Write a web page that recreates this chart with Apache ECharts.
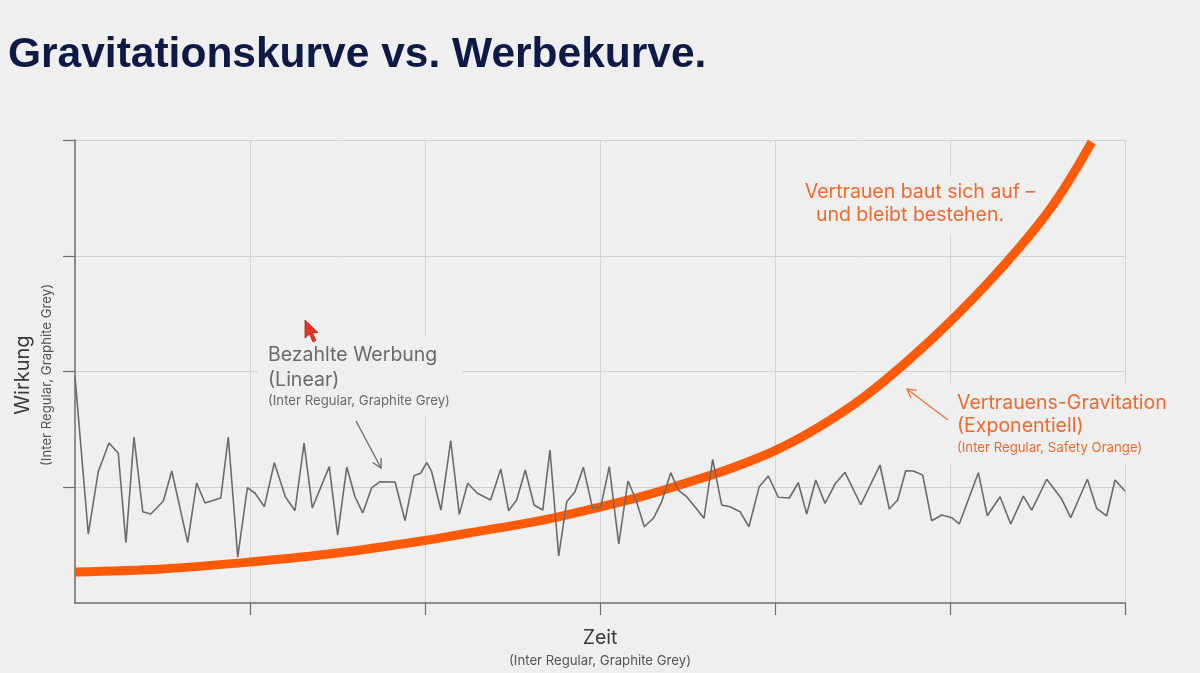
<!DOCTYPE html>
<html>
<head>
<meta charset="utf-8">
<script src="https://cdn.jsdelivr.net/npm/echarts@6/dist/echarts.min.js"></script>
<style>
html, body { margin: 0; padding: 0; background: #efefef; }
#chart { width: 1200px; height: 673px; }
</style>
</head>
<body>
<div id="chart"></div>
<script>
// Zeit-Achse 0..6, Wirkung 0..4
var xTicks = [1, 2, 3, 4, 5, 6];
var yTicks = [1, 2, 3, 4];

// Bezahlte Werbung (grau, zackig)
var adTime = [0, 0.076, 0.133, 0.194, 0.247, 0.291, 0.337, 0.387, 0.433, 0.505, 0.553, 0.644, 0.695, 0.743, 0.833, 0.876, 0.930, 0.985,
	1.029, 1.082, 1.139, 1.202, 1.257, 1.309, 1.356, 1.453, 1.501, 1.553, 1.600, 1.644, 1.695, 1.743, 1.829, 1.886, 1.937, 1.975,
	2.010, 2.038, 2.091, 2.147, 2.196, 2.244, 2.299, 2.375, 2.433, 2.478, 2.524, 2.573, 2.623, 2.673, 2.714, 2.764, 2.810, 2.857, 2.905, 2.958,
	3.004, 3.053, 3.107, 3.160, 3.206, 3.253, 3.305, 3.353, 3.404, 3.447, 3.495, 3.549, 3.594, 3.644, 3.695, 3.743, 3.800, 3.851, 3.910, 3.962,
	4.019, 4.082, 4.133, 4.181, 4.233, 4.286, 4.343, 4.400, 4.490, 4.600, 4.653, 4.701, 4.747, 4.790, 4.844, 4.895, 4.953,
	5.010, 5.053, 5.162, 5.213, 5.286, 5.347, 5.419, 5.467, 5.553, 5.638, 5.690, 5.785, 5.838, 5.895, 5.943, 6];
var adImpact = [1.955, 0.596, 1.134, 1.382, 1.296, 0.521, 1.434, 0.789, 0.769, 0.881, 1.140, 0.521, 1.037, 0.864, 0.907, 1.434, 0.397, 0.996,
	0.948, 0.832, 1.212, 0.918, 0.797, 1.382, 0.821, 1.178, 0.587, 1.175, 0.918, 0.778, 0.994, 1.048, 1.045, 0.711, 1.099, 1.121,
	1.212, 1.134, 0.803, 1.402, 0.766, 1.034, 0.948, 0.890, 1.158, 0.797, 0.890, 1.149, 0.847, 0.803, 1.322, 0.406, 0.875, 0.962, 1.172, 0.818,
	0.829, 1.178, 0.510, 1.054, 0.890, 0.659, 0.732, 0.875, 1.126, 0.976, 0.918, 0.818, 0.732, 1.241, 0.847, 0.832, 0.789, 0.659, 1.005, 1.097,
	0.913, 0.907, 1.039, 0.769, 1.063, 0.861, 1.028, 1.129, 0.849, 1.192, 0.812, 0.890, 1.143, 1.140, 1.106, 0.711, 0.760,
	0.737, 0.683, 1.126, 0.754, 0.918, 0.683, 0.924, 0.803, 1.069, 0.898, 0.737, 1.069, 0.818, 0.752, 1.063, 0.968];

// Vertrauens-Gravitation (orange, exponentiell)
var trustTime = [0, 0.5, 1, 1.5, 2, 2.25, 2.5, 2.75, 3, 3.25, 3.5, 3.75, 4, 4.25, 4.5, 4.75, 5, 5.25, 5.5, 5.65, 5.81];
var trustImpact = [0.268, 0.294, 0.354, 0.432, 0.540, 0.605, 0.668, 0.740, 0.829, 0.925, 1.041, 1.165, 1.317, 1.520, 1.770, 2.080, 2.430, 2.820, 3.260, 3.577, 3.983];

function pairs(xs, ys) {
	var out = [];
	for (var i = 0; i < xs.length; i++) {
		out.push([xs[i], ys[i]]);
	}
	return out;
}

// kleiner Pfeil mit offener Spitze
function arrow(x1, y1, x2, y2, color) {
	var a = Math.atan2(y2 - y1, x2 - x1);
	var len = 10, spread = 0.5;
	return [{
		type: 'line', z: 5, silent: true,
		shape: { x1: x1, y1: y1, x2: x2, y2: y2 },
		style: { stroke: color, lineWidth: 1.3 }
	}, {
		type: 'polyline', z: 5, silent: true,
		shape: { points: [
			[x2 - len * Math.cos(a - spread), y2 - len * Math.sin(a - spread)],
			[x2, y2],
			[x2 - len * Math.cos(a + spread), y2 - len * Math.sin(a + spread)]
		] },
		style: { stroke: color, lineWidth: 1.3, fill: null }
	}];
}

var bg = '#efefef';
var grey = '#6a6a6a';
var orangeText = '#ee6a2e';

var graphics = [
	// Hintergrund hinter den Beschriftungen (verdeckt Gitterlinien)
	{ type: 'rect', z: 1, silent: true, shape: { x: 258, y: 337, width: 204, height: 80 }, style: { fill: bg } },
	{ type: 'rect', z: 1, silent: true, shape: { x: 796, y: 175, width: 244, height: 60 }, style: { fill: bg } },
	{ type: 'rect', z: 1, silent: true, shape: { x: 948, y: 383, width: 212, height: 80 }, style: { fill: bg } },

	{ type: 'text', z: 5, x: 268, y: 355, style: { text: 'Bezahlte Werbung', font: '19.5px Inter', fill: grey, textVerticalAlign: 'middle' } },
	{ type: 'text', z: 5, x: 268, y: 380, style: { text: '(Linear)', font: '19.5px Inter', fill: grey, textVerticalAlign: 'middle' } },
	{ type: 'text', z: 5, x: 268, y: 401, style: { text: '(Inter Regular, Graphite Grey)', font: '13.2px Inter', fill: grey, textVerticalAlign: 'middle' } },

	{ type: 'text', z: 5, x: 920, y: 192, style: { text: 'Vertrauen baut sich auf –', font: '19.5px Inter', fill: orangeText, textAlign: 'center', textVerticalAlign: 'middle' } },
	{ type: 'text', z: 5, x: 910, y: 215, style: { text: 'und bleibt bestehen.', font: '19.5px Inter', fill: orangeText, textAlign: 'center', textVerticalAlign: 'middle' } },

	{ type: 'text', z: 5, x: 957, y: 403, style: { text: 'Vertrauens-Gravitation', font: '19.5px Inter', fill: orangeText, textVerticalAlign: 'middle' } },
	{ type: 'text', z: 5, x: 957, y: 426, style: { text: '(Exponentiell)', font: '19.5px Inter', fill: orangeText, textVerticalAlign: 'middle' } },
	{ type: 'text', z: 5, x: 957, y: 448, style: { text: '(Inter Regular, Safety Orange)', font: '13.2px Inter', fill: orangeText, textVerticalAlign: 'middle' } },

	// Achsentitel
	{ type: 'text', z: 5, x: 23, y: 375, rotation: Math.PI / 2, style: { text: 'Wirkung', font: '20px Inter', fill: '#3a3a3a', textAlign: 'center', textVerticalAlign: 'middle' } },
	{ type: 'text', z: 5, x: 47, y: 375, rotation: Math.PI / 2, style: { text: '(Inter Regular, Graphite Grey)', font: '13.2px Inter', fill: '#555', textAlign: 'center', textVerticalAlign: 'middle' } },
	{ type: 'text', z: 5, x: 600, y: 638, style: { text: 'Zeit', font: '19.5px Inter', fill: '#3a3a3a', textAlign: 'center', textVerticalAlign: 'middle' } },
	{ type: 'text', z: 5, x: 600, y: 661, style: { text: '(Inter Regular, Graphite Grey)', font: '13.2px Inter', fill: '#555', textAlign: 'center', textVerticalAlign: 'middle' } },

	// Mauszeiger aus der Aufnahme
	{ type: 'polygon', z: 6, silent: true, shape: { points: [[305, 320], [305, 338], [309.5, 334], [313, 342], [316, 340.5], [312.5, 333], [318, 332.5]] },
		style: { fill: '#e5332a', stroke: '#b3201a', lineWidth: 0.8 } }
];
graphics = graphics.concat(arrow(356, 421, 381, 468, grey));
graphics = graphics.concat(arrow(948, 420, 907, 389, '#f07030'));

var myChart = echarts.init(document.getElementById('chart'));
var option = {
	backgroundColor: bg,
	animation: false,
	title: {
		text: 'Gravitationskurve vs. Werbekurve.',
		left: 3,
		top: 29,
		textStyle: {
			fontFamily: 'Liberation Sans',
			fontWeight: 'bold',
			fontSize: 42.5,
			color: '#0c1a45'
		}
	},
	grid: { left: 75, right: 75, top: 140, bottom: 70 },
	xAxis: {
		type: 'value',
		min: 0,
		max: 6,
		interval: 1,
		axisLine: { show: true, lineStyle: { color: '#6e6e6e', width: 1.5 } },
		axisTick: { show: true, length: 12, customValues: xTicks, lineStyle: { color: '#6e6e6e', width: 1.2 } },
		axisLabel: { show: false },
		splitLine: { show: true, lineStyle: { color: '#d2d2d2', width: 1 } }
	},
	yAxis: {
		type: 'value',
		min: 0,
		max: 4,
		interval: 1,
		axisLine: { show: true, lineStyle: { color: '#6e6e6e', width: 1.5 } },
		axisTick: { show: true, length: 12, customValues: yTicks, lineStyle: { color: '#6e6e6e', width: 1.2 } },
		axisLabel: { show: false },
		splitLine: { show: true, lineStyle: { color: '#d2d2d2', width: 1 } }
	},
	series: [{
		name: 'Vertrauens-Gravitation',
		type: 'line',
		smooth: 0.35,
		showSymbol: false,
		z: 2,
		lineStyle: { color: '#ff5a08', width: 9, cap: 'butt' },
		data: pairs(trustTime, trustImpact)
	}, {
		name: 'Bezahlte Werbung',
		type: 'line',
		showSymbol: false,
		z: 3,
		lineStyle: { color: '#6b6b6b', width: 1.6 },
		data: pairs(adTime, adImpact)
	}],
	graphic: graphics
};
myChart.setOption(option);
</script>
</body>
</html>
